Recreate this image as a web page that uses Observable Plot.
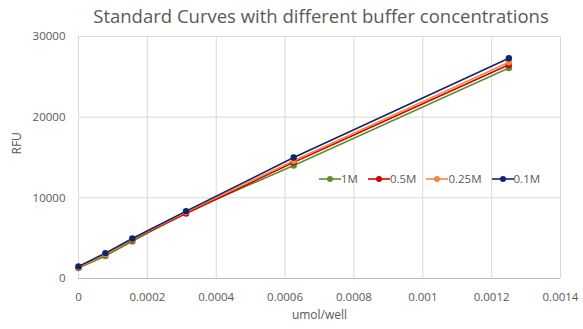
<!DOCTYPE html>
<html><head><meta charset="utf-8">
<script src="https://cdn.jsdelivr.net/npm/d3@7"></script>
<script src="https://cdn.jsdelivr.net/npm/@observablehq/plot@0.6"></script>
<style>
body{margin:0;background:#fff;font-family:"Open Sans",sans-serif;}
#wrap{position:relative;width:583px;height:329px;}
#title{position:absolute;left:0;width:642px;top:3px;text-align:center;font-size:18.5px;color:#595959;}
#legend{position:absolute;top:171px;left:319px;display:flex;gap:10px;font-size:11.5px;color:#595959;}
#legend span{display:flex;align-items:center;}
</style></head><body>
<div id="wrap"><div id="title">Standard Curves with different buffer concentrations</div><div id="chart"></div><div id="legend"></div></div>
<script>
const xValues = [0, 0.000078125, 0.00015625, 0.0003125, 0.000625, 0.00125];
const series = ["1M", "0.5M", "0.25M", "0.1M"];
const y1M   = [1300, 2800, 4600, 8200, 14000, 26100];
const y05M  = [1400, 3000, 4800, 8050, 14400, 26500];
const y025M = [1400, 3000, 4850, 8250, 14600, 26800];
const y01M  = [1500, 3150, 4950, 8350, 15000, 27300];
const colors = ["#5b8f2e", "#d40000", "#f28a3c", "#0d2470"];
const xTicks = [0,0.0002,0.0004,0.0006,0.0008,0.001,0.0012,0.0014];
const yTicks = [0,10000,20000,30000];

const all = [y1M, y05M, y025M, y01M];
const data = [];
series.forEach((s,i)=>xValues.forEach((x,j)=>data.push({series:s,x,y:all[i][j]})));

const chart = Plot.plot({
  width:583, height:329,
  marginLeft:78, marginRight:23, marginTop:36, marginBottom:51,
  style:{fontFamily:"Open Sans, sans-serif", fontSize:"11.5px", color:"#595959"},
  x:{domain:[0,0.0014], label:null},
  y:{domain:[0,30000], label:null},
  color:{domain:series, range:colors},
  marks:[
    Plot.gridX(xTicks,{stroke:"#d9d9d9", strokeOpacity:1}),
    Plot.gridY(yTicks,{stroke:"#d9d9d9", strokeOpacity:1}),
    Plot.ruleY([0],{stroke:"#bfbfbf"}),
    Plot.axisX(xTicks,{tickSize:0, tickPadding:14, tickFormat:d=>String(+d.toFixed(4)), label:null, fill:"#595959"}),
    Plot.axisY(yTicks,{tickSize:0, tickPadding:13, tickFormat:d=>String(d), label:null, fill:"#595959"}),
    Plot.line(data,{x:"x", y:"y", z:"series", stroke:"series", strokeWidth:1.6}),
    Plot.dot(data,{x:"x", y:"y", fill:"series", r:3.2}),
    Plot.text(["umol/well"],{frameAnchor:"bottom", dy:40, fill:"#595959", fontSize:12}),
    Plot.text(["RFU"],{frameAnchor:"left", dx:-61, dy:-3, rotate:-90, fill:"#595959", fontSize:12})
  ]
});
document.getElementById("chart").appendChild(chart);

const leg = document.getElementById("legend");
series.forEach((s,i)=>{
  const sp = document.createElement("span");
  sp.innerHTML = `<svg width="22" height="10"><line x1="0" y1="5" x2="22" y2="5" stroke="${colors[i]}" stroke-width="1.6"/><circle cx="11" cy="5" r="3" fill="${colors[i]}"/></svg>${s}`;
  leg.appendChild(sp);
});
</script>
</body></html>
